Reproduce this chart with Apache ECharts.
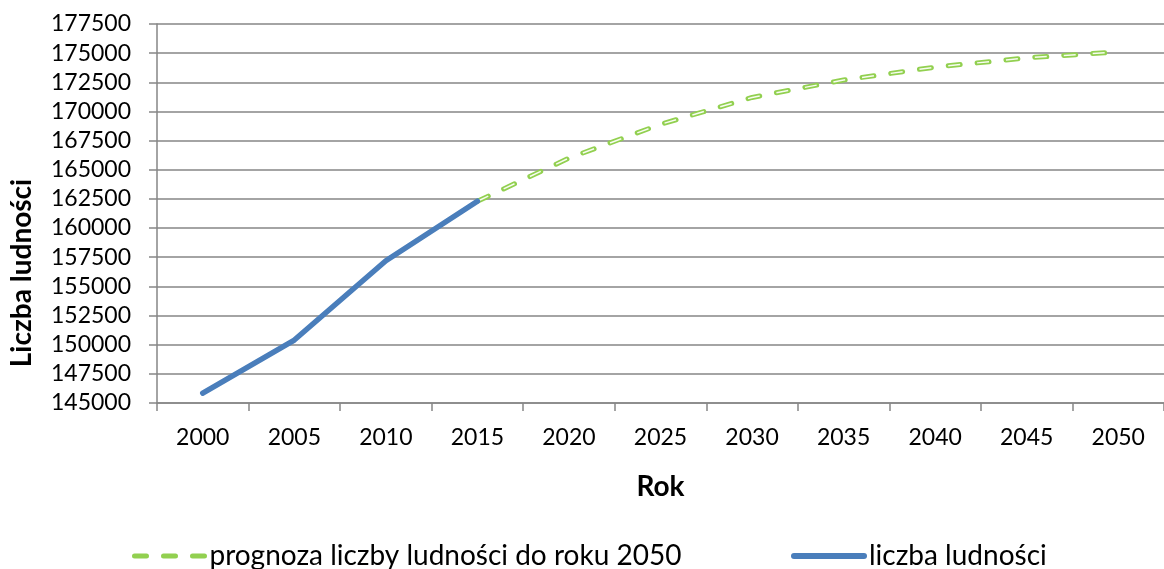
<!DOCTYPE html>
<html>
<head>
<meta charset="utf-8">
<script src="https://cdn.jsdelivr.net/npm/echarts@6/dist/echarts.min.js"></script>
<style>html,body{margin:0;padding:0;background:#fff}#c{width:1164px;height:569px}</style>
</head>
<body>
<div id="c"></div>
<script>
const years = ['2000','2005','2010','2015','2020','2025','2030','2035','2040','2045','2050'];
const population = [145850, 150400, 157200, 162300, null, null, null, null, null, null, null];
const forecast = [null, null, null, 162300, 166000, 168900, 171200, 172700, 173800, 174600, 175100];
const forecastName = 'prognoza liczby ludności do roku 2050';
const populationName = 'liczba ludności';

const FONT = 'Lato';
const legendText = {fontFamily: FONT, fontSize: 28, color: '#000', lineHeight: 30};
const chart = echarts.init(document.getElementById('c'), null, {renderer: 'canvas'});
chart.setOption({
  animation: false,
  backgroundColor: '#ffffff',
  grid: {left: 157, right: 0, top: 24, bottom: 166, containLabel: false},
  legend: [
    {data: [forecastName], left: 127, top: 536, itemWidth: 70, itemHeight: 14, itemGap: 0,
     itemStyle: {opacity: 0},
     lineStyle: {color: '#92D050', width: 5, type: [12, 17], cap: 'round'},
     textStyle: legendText},
    {data: [populationName], left: 786, top: 536, itemWidth: 70, itemHeight: 14, itemGap: 0,
     itemStyle: {opacity: 0},
     lineStyle: {color: '#4A7EBB', width: 6, cap: 'round'},
     textStyle: legendText}
  ],
  xAxis: {
    type: 'category', data: years, boundaryGap: true,
    name: 'Rok', nameLocation: 'middle', nameGap: 70,
    nameTextStyle: {fontFamily: FONT, fontSize: 28, fontWeight: 'bold', color: '#000'},
    axisLine: {show: true, lineStyle: {color: '#868686', width: 1.5}},
    axisTick: {show: true, length: 8, alignWithLabel: false, lineStyle: {color: '#868686', width: 1.5}},
    axisLabel: {fontFamily: FONT, fontSize: 23, color: '#000', margin: 23, interval: 0},
    splitLine: {show: false}
  },
  yAxis: {
    type: 'value', min: 145000, max: 177500, interval: 2500,
    axisLine: {show: true, lineStyle: {color: '#868686', width: 1.5}},
    axisTick: {show: true, length: 8, lineStyle: {color: '#868686', width: 1.5}},
    axisLabel: {fontFamily: FONT, fontSize: 23, color: '#000', margin: 26, formatter: v => String(v)},
    splitLine: {show: true, lineStyle: {color: '#868686', width: 1.5}}
  },
  graphic: [{
    type: 'text', x: 22, y: 273, rotation: Math.PI / 2,
    style: {text: 'Liczba ludności', fontFamily: FONT, fontSize: 28, fontWeight: 'bold',
            fill: '#000', textAlign: 'center', textVerticalAlign: 'middle'}
  }],
  series: [
    {name: forecastName, type: 'line', data: forecast, symbol: 'none', connectNulls: false,
     lineStyle: {color: '#92D050', width: 5, type: [12, 17], cap: 'round'},
     itemStyle: {color: '#92D050'}, z: 2},
    {name: 'core', type: 'line', data: forecast, symbol: 'none', connectNulls: false,
     lineStyle: {color: '#f7fcf0', width: 1.5, type: [12, 17], cap: 'butt'}, z: 3, silent: true},
    {name: populationName, type: 'line', data: population, symbol: 'none', connectNulls: false,
     lineStyle: {color: '#4A7EBB', width: 5.5, cap: 'round', join: 'round'},
     itemStyle: {color: '#4A7EBB'}, z: 4}
  ]
});
</script>
</body>
</html>
